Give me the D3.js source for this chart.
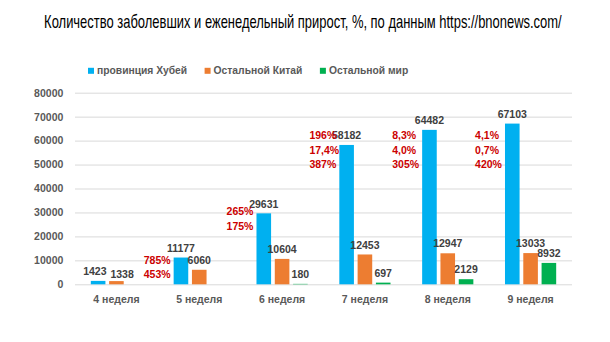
<!DOCTYPE html>
<html>
<head>
<meta charset="utf-8">
<script src="https://cdn.jsdelivr.net/npm/d3@7"></script>
<style>
  html, body { margin: 0; padding: 0; background: #fff; }
  svg { display: block; }
  text { font-family: "Liberation Sans", Arial, sans-serif; }
</style>
</head>
<body>
<svg id="chart" width="610" height="342"></svg>
<script>
// ---- data ----
const title = "Количество заболевших и еженедельный прирост, %, по данным https://bnonews.com/";
const weeks = ["4 неделя", "5 неделя", "6 неделя", "7 неделя", "8 неделя", "9 неделя"];
const seriesNames = ["провинция Хубей", "Остальной Китай", "Остальной мир"];
const hubei = [1423, 11177, 29631, 58182, 64482, 67103];
const restChina = [1338, 6060, 10604, 12453, 12947, 13033];
const restWorld = [null, null, 180, 697, 2129, 8932];
const yTicks = [0, 10000, 20000, 30000, 40000, 50000, 60000, 70000, 80000];
const growthLabels = [
  [],
  ["785%", "453%"],
  ["265%", "175%"],
  ["196%", "17,4%", "387%"],
  ["8,3%", "4,0%", "305%"],
  ["4,1%", "0,7%", "420%"]
];
const growthAnchor = [null, 10100, 30300, 62000, 62000, 62000];

// ---- styles ----
const colors = ["#00b0f0", "#ed7d31", "#00b050"];
const allSeries = [hubei, restChina, restWorld];

const svg = d3.select("#chart");
svg.append("rect").attr("width", 610).attr("height", 342).attr("fill", "#fff");

const margin = { left: 75, right: 38, top: 92.7, bottom: 57.7 };
const W = 610, H = 342;

const x = d3.scaleBand().domain(weeks).range([margin.left, W - margin.right]).padding(0);
const xs = d3.scalePoint().domain(seriesNames).range([-18.3, 18.3]);
const barW = 14.6;
const y = d3.scaleLinear().domain([0, 80000]).range([H - margin.bottom, margin.top]);

// title: condensed look by horizontal scaling to the reference width
const tg = svg.append("g");
const tt = tg.append("text")
  .attr("x", 0).attr("y", 0).attr("text-anchor", "middle")
  .style("font-family", "'Liberation Sans', Arial, sans-serif")
  .style("font-size", "18px")
  .attr("fill", "#000")
  .text(title);
const tw = tt.node().getComputedTextLength();
tg.attr("transform", `translate(302.9,28) scale(${(518 / tw).toFixed(4)},1)`);

// legend
let lx = 88;
seriesNames.forEach((name, i) => {
  svg.append("rect").attr("x", lx).attr("y", 67.8).attr("width", 6).attr("height", 6).attr("fill", colors[i]);
  const t = svg.append("text").attr("x", lx + 9).attr("y", 70.7).attr("dy", "0.35em")
    .style("font-size", "10.3px").style("font-weight", "bold").attr("fill", "#595959").text(name);
  lx += 9 + t.node().getComputedTextLength() + 17.5;
});

// gridlines + y labels
const yAxis = d3.axisLeft(y).tickValues(yTicks).tickSize(-(W - margin.left - margin.right)).tickPadding(11.7).tickFormat(d3.format("d"));
const gy = svg.append("g").attr("transform", `translate(${margin.left},0)`).call(yAxis);
gy.select(".domain").remove();
gy.selectAll(".tick line").attr("stroke", "#d9d9d9").attr("stroke-width", 1);
gy.selectAll(".tick text").attr("fill", "#595959").style("font-size", "10.5px").style("font-weight", "bold")
  .style("font-family", "'Liberation Sans', Arial, sans-serif");

// x axis labels
const xAxis = d3.axisBottom(x).tickSize(0).tickPadding(11);
const gx = svg.append("g").attr("transform", `translate(0,${y(0)})`).call(xAxis);
gx.select(".domain").remove();
gx.selectAll(".tick text").attr("fill", "#595959").style("font-size", "10.5px").style("font-weight", "bold")
  .style("font-family", "'Liberation Sans', Arial, sans-serif");

// bars
const labelNudge = { "0|0": [-3.3, 0], "0|1": [5.7, 2.5] };
allSeries.forEach((vals, si) => {
  vals.forEach((v, wi) => {
    if (v == null) return;
    const cx = x(weeks[wi]) + x.bandwidth() / 2 + xs(seriesNames[si]);
    svg.append("rect")
      .attr("x", cx - barW / 2).attr("width", barW)
      .attr("y", y(v)).attr("height", Math.max(0, y(0) - y(v)))
      .attr("fill", colors[si]);
    const n = labelNudge[wi + "|" + si] || [0, 0];
    svg.append("text")
      .attr("x", cx + n[0]).attr("y", y(v) - 9.5 + n[1]).attr("dy", "0.35em")
      .attr("text-anchor", "middle")
      .style("font-size", "10.5px").style("font-weight", "bold").attr("fill", "#404040")
      .text(v);
  });
});

// growth annotations
growthLabels.forEach((lines, wi) => {
  if (!lines.length) return;
  const lx0 = x(weeks[wi]) + x.bandwidth() / 2 - 55.5;
  lines.forEach((s, li) => {
    svg.append("text")
      .attr("x", lx0).attr("y", y(growthAnchor[wi]) + li * 14.2).attr("dy", "0.35em")
      .style("font-size", "10.5px").style("font-weight", "bold").attr("fill", "#cc0000")
      .text(s);
  });
});
</script>
</body>
</html>
